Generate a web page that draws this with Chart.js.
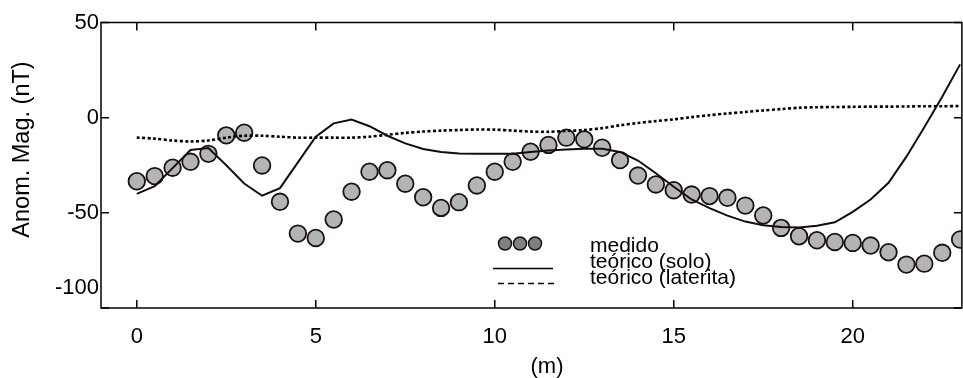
<!DOCTYPE html>
<html>
<head>
<meta charset="utf-8">
<script src="https://cdn.jsdelivr.net/npm/chart.js@4/dist/chart.umd.min.js"></script>
<style>
	html, body { margin: 0; padding: 0; background: #fff; overflow: hidden; }
	#wrap { width: 972px; height: 378px; }
</style>
</head>
<body>
<div id="wrap"><canvas id="main-chart"></canvas></div>
<script>
// distancia (m)
const posMedido = [0, 0.5, 1, 1.5, 2, 2.5, 3, 3.5, 4, 4.5, 5, 5.5, 6, 6.5, 7, 7.5, 8, 8.5, 9, 9.5, 10, 10.5, 11, 11.5,
	12, 12.5, 13, 13.5, 14, 14.5, 15, 15.5, 16, 16.5, 17, 17.5, 18, 18.5, 19, 19.5, 20, 20.5, 21, 21.5, 22, 22.5, 23];
const medido = [-33.4, -30.7, -26.3, -23.2, -19, -9.3, -7.9, -25.1, -44.2, -60.9, -63.2, -53.5, -38.9, -28.4, -27.6, -34.7,
	-41.8, -47.4, -44.4, -35.6, -28.4, -23.2, -17.9, -14.3, -10.5, -11.4, -15.8, -22.3, -30.4, -35.1, -38.1, -40.4,
	-41.2, -42.1, -46.2, -51.4, -57.9, -62.3, -64.4, -65.3, -65.8, -67.2, -70.7, -77.2, -76.7, -71, -64];

const posSolo = [0, 0.5, 1, 1.5, 2, 2.5, 3, 3.5, 4, 4.5, 5, 5.5, 6, 6.5, 7, 7.5, 8, 8.5, 9, 9.5, 10, 10.5, 11, 11.5,
	12, 12.5, 13, 13.5, 14, 14.5, 15, 15.5, 16, 16.5, 17, 17.5, 18, 18.5, 19, 19.5, 20, 20.5, 21, 21.5, 22, 22.5, 23];
const teoricoSolo = [-40, -36, -26.5, -17, -16, -25, -34.6, -41, -37, -23.5, -10, -3, -1, -4.5, -9.5, -13.5,
	-16.5, -18, -18.8, -19, -19, -19, -18, -17.3, -16.7, -16.3, -16.3, -18, -22.5, -29.2, -36.3, -43,
	-47.5, -51.5, -54.6, -56.5, -57.5, -57.7, -56.8, -55, -49.5, -43, -34.2, -20.5, -5, 11, 28];

const posLaterita = [0, 0.5, 1, 1.5, 2, 2.5, 3, 3.5, 4, 4.5, 5, 5.5, 6, 6.5, 7, 7.5, 8, 8.5, 9, 9.5, 10, 10.5, 11, 11.5,
	12, 12.5, 13, 13.5, 14, 14.5, 15, 15.5, 16, 16.5, 17, 17.5, 18, 18.5, 19, 19.5, 20, 20.5, 21, 21.5, 22, 22.5, 23];
const teoricoLaterita = [-10.5, -11, -12, -12.5, -12, -10.5, -9.5, -9.5, -10, -10.5, -10.5, -10.5, -10.5, -10, -9, -8,
	-7.3, -6.8, -6.5, -6.2, -6.3, -6.8, -7.3, -7.4, -7, -6.5, -5.5, -4, -2.8, -1.8, -0.9, 0.3,
	1.3, 2.2, 3, 3.8, 4.5, 5.2, 5.5, 5.6, 5.7, 5.8, 5.8, 5.9, 6, 6, 6.1];

const xTicks = [0, 5, 10, 15, 20];
const yTicks = [-100, -50, 0, 50];

function pares(xs, ys) {
	return xs.map((x, i) => ({ x: x, y: ys[i] }));
}

const FONT = '"Liberation Sans", Arial, sans-serif';

// moldura, marcas internas, titulos e legenda
const moldura = {
	id: 'moldura',
	afterDraw(chart) {
		const ctx = chart.ctx;
		const a = chart.chartArea;
		const sx = chart.scales.x;
		const sy = chart.scales.y;
		ctx.save();
		ctx.strokeStyle = '#000';
		ctx.lineWidth = 1.5;
		ctx.strokeRect(a.left, a.top, a.right - a.left, a.bottom - a.top);

		ctx.beginPath();
		xTicks.forEach(v => {
			const px = sx.getPixelForValue(v);
			ctx.moveTo(px, a.bottom); ctx.lineTo(px, a.bottom - 8);
			ctx.moveTo(px, a.top); ctx.lineTo(px, a.top + 8);
		});
		yTicks.forEach(v => {
			const py = sy.getPixelForValue(v);
			ctx.moveTo(a.left, py); ctx.lineTo(a.left + 8, py);
			ctx.moveTo(a.right, py); ctx.lineTo(a.right - 8, py);
		});
		ctx.stroke();

		// titulos
		ctx.fillStyle = '#000';
		ctx.textAlign = 'center';
		ctx.textBaseline = 'middle';
		ctx.font = '22px ' + FONT;
		ctx.fillText('(m)', a.left + 446, a.bottom + 59);
		ctx.save();
		ctx.translate(23, a.top + 127);
		ctx.rotate(-Math.PI / 2);
		ctx.font = '23.5px ' + FONT;
		ctx.fillText('Anom. Mag. (nT)', 0, 0);
		ctx.restore();

		// legenda
		const lx = a.left + 392;
		const ly = a.top + 220;
		[0, 15, 30].forEach(dx => {
			ctx.beginPath();
			ctx.arc(lx + 12 + dx, ly + 1, 6.5, 0, Math.PI * 2);
			ctx.fillStyle = '#808080';
			ctx.fill();
			ctx.lineWidth = 1.5;
			ctx.strokeStyle = '#111';
			ctx.stroke();
		});
		ctx.lineWidth = 1.6;
		ctx.strokeStyle = '#000';
		ctx.beginPath();
		ctx.moveTo(lx, ly + 26); ctx.lineTo(lx + 60, ly + 26);
		ctx.stroke();
		ctx.setLineDash([6, 4]);
		ctx.beginPath();
		ctx.moveTo(lx + 5, ly + 41); ctx.lineTo(lx + 65, ly + 41);
		ctx.stroke();
		ctx.setLineDash([]);

		ctx.fillStyle = '#000';
		ctx.textAlign = 'left';
		ctx.textBaseline = 'alphabetic';
		ctx.font = '21px ' + FONT;
		ctx.fillText('medido', lx + 97, ly + 9);
		ctx.fillText('teórico (solo)', lx + 97, ly + 25);
		ctx.fillText('teórico (laterita)', lx + 97, ly + 41);
		ctx.restore();
	}
};

function make() {
	const ctx = document.getElementById('main-chart');
	return new Chart(ctx, {
		type: 'scatter',
		data: {
			datasets: [
				{
					label: 'teórico (solo)',
					data: pares(posSolo, teoricoSolo),
					showLine: true,
					borderColor: '#140c0c',
					borderWidth: 2,
					pointRadius: 0,
					tension: 0,
					order: 1
				},
				{
					label: 'teórico (laterita)',
					data: pares(posLaterita, teoricoLaterita),
					showLine: true,
					borderColor: '#000',
					borderWidth: 2.6,
					borderDash: [3, 2.4],
					pointRadius: 0,
					tension: 0.3,
					order: 2
				},
				{
					label: 'medido',
					data: pares(posMedido, medido),
					backgroundColor: '#b4b4b4',
					borderColor: '#1a1212',
					borderWidth: 1.8,
					pointRadius: 8.3,
					order: 3
				}
			]
		},
		options: {
			responsive: true,
			maintainAspectRatio: false,
			animation: false,
			layout: { padding: { left: 0, top: 22.5, right: 5.2, bottom: 0 } },
			plugins: { legend: { display: false }, tooltip: { enabled: false } },
			scales: {
				x: {
					type: 'linear',
					min: -1,
					max: 23.05,
					afterBuildTicks: s => { s.ticks = xTicks.map(v => ({ value: v })); },
					afterFit: s => { s.height = 70; },
					grid: { display: false, drawTicks: false },
					border: { display: false },
					ticks: { color: '#000', padding: 16, font: { family: FONT, size: 22 } }
				},
				y: {
					type: 'linear',
					min: -100,
					max: 50,
					afterBuildTicks: s => { s.ticks = yTicks.map(v => ({ value: v })); },
					afterFit: s => { s.width = 101; },
					grid: { display: false, drawTicks: false },
					border: { display: false },
					ticks: {
						color: '#000',
						padding: 2,
						font: { family: FONT, size: 22, lineHeight: 0.91 },
						callback: v => (v === -100 ? ['-100', '', ''] : String(v))
					}
				}
			}
		},
		plugins: [moldura]
	});
}

make();
</script>
</body>
</html>
